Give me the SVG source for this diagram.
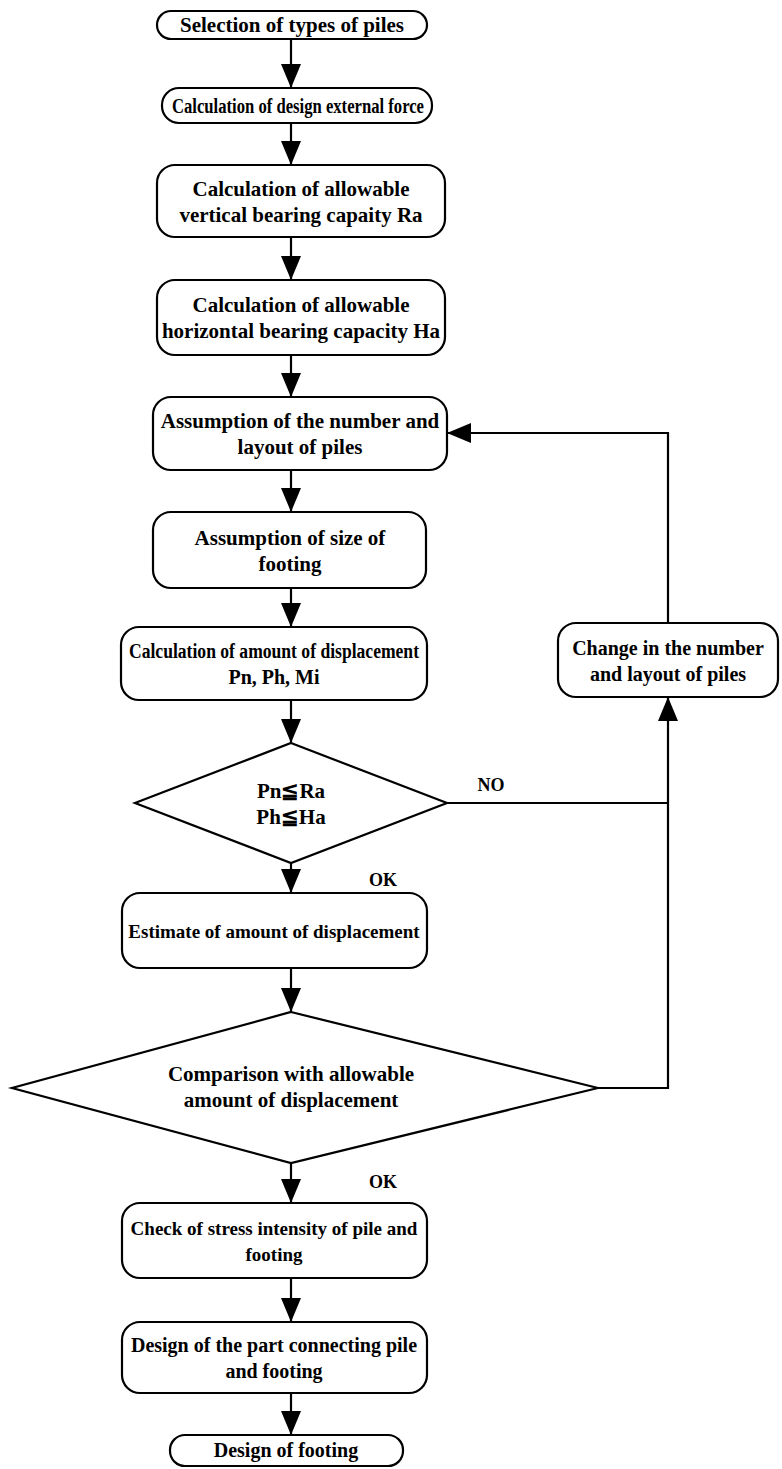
<svg xmlns="http://www.w3.org/2000/svg" width="782" height="1469" viewBox="0 0 782 1469">
<style>
.box{fill:#fff;stroke:#000;stroke-width:2.2}
.t{font-family:"Liberation Serif",serif;font-size:20px;font-weight:bold;fill:#000;text-anchor:middle}
.s17{font-size:17px}
.s18{font-size:18px}
.s19{font-size:19px}
.s21{font-size:21px}
.c{fill:none;stroke:#000;stroke-width:2.2}
</style>
<defs>
<marker id="ah" markerUnits="userSpaceOnUse" markerWidth="24" markerHeight="20" refX="24" refY="10" orient="auto" viewBox="0 0 24 20"><path d="M0,0 L24,10 L0,20 z" fill="#000"/></marker>
</defs>
<rect width="782" height="1469" fill="#fff"/>
<g id="connectors">
<line class="c" x1="291" y1="38" x2="291" y2="88" marker-end="url(#ah)"/>
<line class="c" x1="291" y1="123" x2="291" y2="165" marker-end="url(#ah)"/>
<line class="c" x1="291" y1="237" x2="291" y2="280" marker-end="url(#ah)"/>
<line class="c" x1="291" y1="355" x2="291" y2="397" marker-end="url(#ah)"/>
<line class="c" x1="291" y1="470" x2="291" y2="512" marker-end="url(#ah)"/>
<line class="c" x1="291" y1="588" x2="291" y2="627" marker-end="url(#ah)"/>
<line class="c" x1="291" y1="700" x2="291" y2="743" marker-end="url(#ah)"/>
<line class="c" x1="291" y1="863" x2="291" y2="893" marker-end="url(#ah)"/>
<line class="c" x1="291" y1="968" x2="291" y2="1012" marker-end="url(#ah)"/>
<line class="c" x1="291" y1="1163" x2="291" y2="1203" marker-end="url(#ah)"/>
<line class="c" x1="291" y1="1278" x2="291" y2="1322" marker-end="url(#ah)"/>
<line class="c" x1="291" y1="1393" x2="291" y2="1435" marker-end="url(#ah)"/>
<polyline class="c" points="598,1088 668,1088 668,697" marker-end="url(#ah)"/>
<line class="c" x1="447" y1="803" x2="668" y2="803"/>
<polyline class="c" points="668,623 668,433 447,433" marker-end="url(#ah)"/>
<text class="t s18" x="491" y="791">NO</text>
<text class="t s18" x="383" y="886">OK</text>
<text class="t s18" x="383" y="1188">OK</text>
</g>
<g id="n1"><rect class="box" x="157" y="11" width="270" height="28" rx="14"/><text class="t s21" x="292" y="32">Selection of types of piles</text></g>
<g id="n2"><rect class="box" x="162" y="88" width="270" height="35" rx="17"/><text class="t" x="298" y="113" textLength="252" lengthAdjust="spacingAndGlyphs">Calculation of design external force</text></g>
<g id="n3"><rect class="box" x="157" y="165" width="288" height="72" rx="18"/><text class="t s21" x="301" y="196">Calculation of allowable</text><text class="t s21" x="301" y="222">vertical bearing capaity Ra</text></g>
<g id="n4"><rect class="box" x="157" y="280" width="288" height="75" rx="18"/><text class="t s21" x="301" y="312">Calculation of allowable</text><text class="t s21" x="301" y="338">horizontal bearing capacity Ha</text></g>
<g id="n5"><rect class="box" x="153" y="397" width="294" height="73" rx="18"/><text class="t s21" x="300" y="428">Assumption of the number and</text><text class="t s21" x="300" y="454">layout of piles</text></g>
<g id="n6"><rect class="box" x="153" y="512" width="273" height="76" rx="18"/><text class="t s21" x="290" y="545">Assumption of size of</text><text class="t s21" x="290" y="571">footing</text></g>
<g id="n7"><rect class="box" x="121" y="627" width="306" height="73" rx="18"/><text class="t" x="274" y="658" textLength="290" lengthAdjust="spacingAndGlyphs">Calculation of amount of displacement</text><text class="t" x="274" y="684">Pn, Ph, Mi</text></g>
<g id="nr"><rect class="box" x="558" y="623" width="220" height="74" rx="18"/><text class="t" x="668" y="655">Change in the number</text><text class="t" x="668" y="681">and layout of piles</text></g>
<g id="d1"><polygon class="box" points="291,743 447,803 291,863 135,803"/><text class="t s21" x="291" y="798">Pn≦Ra</text><text class="t s21" x="291" y="824">Ph≦Ha</text></g>
<g id="n8"><rect class="box" x="122" y="893" width="305" height="75" rx="18"/><text class="t s19" x="274" y="938">Estimate of amount of displacement</text></g>
<g id="d2"><polygon class="box" points="291,1012 598,1088 291,1163 12,1088"/><text class="t s21" x="291" y="1081">Comparison with allowable</text><text class="t s21" x="291" y="1107">amount of displacement</text></g>
<g id="n9"><rect class="box" x="122" y="1203" width="305" height="75" rx="18"/><text class="t s19" x="274" y="1235">Check of stress intensity of pile and</text><text class="t s19" x="274" y="1261">footing</text></g>
<g id="n10"><rect class="box" x="122" y="1322" width="305" height="71" rx="18"/><text class="t" x="274" y="1352">Design of the part connecting pile</text><text class="t" x="274" y="1378">and footing</text></g>
<g id="n11"><rect class="box" x="170" y="1435" width="233" height="31" rx="15"/><text class="t" x="286" y="1457">Design of footing</text></g>
</svg>
